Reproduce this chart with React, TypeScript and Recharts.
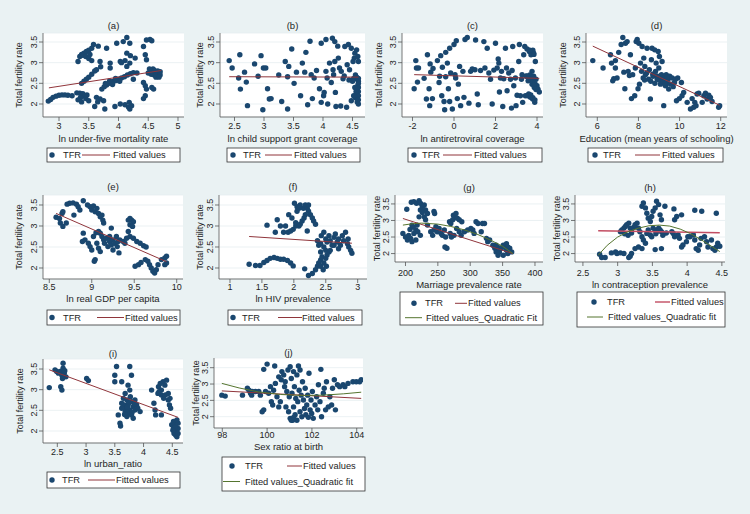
import { ScatterChart, Scatter, XAxis, YAxis, CartesianGrid } from 'recharts'

// ---- data: [x, TFR] ----
const tfrA = [
  [2.82, 2.07], [2.86, 2.11], [2.9, 2.16], [2.95, 2.19], [3.0, 2.21], [3.05, 2.22], [3.1, 2.22], [3.15, 2.21], [3.22, 2.2],
  [3.3, 2.27], [3.35, 2.26], [3.4, 2.25], [3.43, 2.2], [3.36, 2.15], [3.45, 2.13], [3.5, 2.08], [3.32, 2.1], [3.38, 2.05], [3.47, 2.22],
  [3.32, 3.03], [3.35, 3.15], [3.38, 3.2], [3.42, 3.23], [3.46, 3.27], [3.5, 3.3], [3.55, 3.35], [3.58, 3.44], [3.4, 3.18], [3.45, 3.15], [3.5, 3.1], [3.55, 3.05], [3.52, 3.2],
  [3.38, 2.5], [3.42, 2.55], [3.46, 2.6], [3.5, 2.65], [3.55, 2.72], [3.6, 2.8], [3.63, 2.83],
  [3.66, 3.4], [3.69, 3.03], [3.8, 3.35], [3.86, 2.99], [3.86, 2.87], [3.7, 2.9],
  [3.6, 1.94], [3.63, 2.16], [3.69, 2.12], [3.75, 2.08], [3.77, 1.88], [3.65, 2.05],
  [3.72, 2.36], [3.76, 2.42], [3.8, 2.46], [3.84, 2.5], [3.88, 2.53], [3.92, 2.55], [3.96, 2.57], [4.0, 2.6], [4.05, 2.63], [4.1, 2.66], [4.15, 2.7], [4.2, 2.73], [4.25, 2.76],
  [3.78, 2.5], [3.85, 2.56], [3.9, 2.47], [3.95, 2.62], [4.02, 2.55],
  [3.97, 3.47], [4.08, 3.51], [4.14, 3.61], [4.19, 3.47], [4.14, 3.23], [4.03, 3.03], [4.11, 3.05], [4.14, 2.91], [4.19, 2.99], [4.05, 3.0], [4.2, 3.17],
  [3.94, 1.94], [4.03, 2.0], [4.11, 1.98], [4.17, 1.92], [4.19, 1.88], [4.22, 1.96], [4.18, 2.04],
  [4.28, 3.11], [4.31, 2.75], [4.25, 2.6],
  [4.42, 3.39], [4.47, 3.55], [4.53, 3.56], [4.56, 3.53], [4.45, 3.19], [4.47, 3.07], [4.42, 2.52], [4.45, 2.44], [4.47, 2.36], [4.45, 2.2], [4.42, 2.13], [4.56, 2.4], [4.59, 2.36],
  [4.55, 2.8], [4.58, 2.85], [4.6, 2.82], [4.62, 2.78], [4.65, 2.75], [4.68, 2.72], [4.7, 2.7], [4.6, 2.7], [4.63, 2.65], [4.66, 2.8], [4.55, 2.72], [4.68, 2.65], [4.7, 2.78], [4.5, 2.75], [4.52, 2.85],
]
const fitA = [[2.83, 2.39], [4.72, 2.81]]

const tfrB = [
  [2.41, 3.05], [2.46, 2.87], [2.59, 3.19], [2.57, 2.63], [2.6, 2.36], [2.67, 2.77], [2.7, 2.53], [2.72, 1.96], [2.84, 2.97], [2.9, 2.67],
  [2.95, 3.17], [2.99, 2.87], [3.03, 2.87], [2.98, 1.86], [3.06, 2.37], [3.09, 2.12], [3.12, 2.13], [3.25, 2.7], [3.3, 2.06], [3.36, 3.03],
  [3.42, 2.91], [3.4, 2.66], [3.4, 1.88], [3.47, 3.33], [3.51, 2.5], [3.55, 2.77], [3.62, 2.2], [3.65, 2.99], [3.69, 2.77], [3.71, 3.25],
  [3.74, 1.98], [3.78, 3.52], [3.8, 2.71], [3.82, 2.13], [3.85, 2.63], [3.89, 2.81], [3.94, 2.37], [3.97, 3.47], [3.97, 2.04], [4.01, 2.2],
  [4.02, 2.28], [4.05, 3.56], [4.05, 2.79], [4.07, 2.63], [4.08, 2.0], [4.11, 2.99], [4.14, 2.52], [4.16, 3.59], [4.17, 2.83], [4.18, 2.71],
  [4.2, 3.51], [4.2, 3.03], [4.21, 2.28], [4.22, 1.94], [4.25, 3.4], [4.26, 3.11], [4.28, 2.87], [4.31, 2.79], [4.34, 2.61], [4.37, 3.39],
  [4.4, 1.92], [4.41, 2.95], [4.43, 3.44], [4.45, 2.83], [4.48, 2.08], [4.48, 3.35], [4.51, 3.03], [4.53, 3.11], [4.54, 3.23], [4.57, 3.31],
  [4.59, 3.15], [4.6, 3.03], [4.55, 2.7], [4.57, 2.65], [4.58, 2.6], [4.6, 2.55], [4.6, 2.5], [4.59, 2.45], [4.6, 2.4], [4.58, 2.35],
  [4.6, 2.3], [4.57, 2.25], [4.6, 2.2], [4.55, 2.15], [4.6, 2.1], [4.58, 2.05], [4.52, 2.62], [4.5, 2.55], [4.54, 2.4], [4.56, 2.3],
  [4.52, 2.2], [4.6, 2.62], [4.6, 2.0], [4.36, 2.68], [4.44, 2.58], [4.3, 1.95],
]
const fitB = [[2.41, 2.66], [4.6, 2.65]]

const tfrC = [
  [-1.92, 2.37], [-1.84, 3.05], [-1.81, 2.87], [-1.71, 2.87], [-1.76, 2.53], [-1.44, 2.62], [-1.33, 2.12], [-1.28, 3.19], [-1.2, 2.37], [-1.15, 2.97],
  [-1.17, 1.96], [-1.12, 2.77], [-1.04, 2.13], [-1.01, 2.86], [-0.8, 3.05], [-0.72, 2.52], [-0.69, 2.67], [-0.64, 3.17], [-0.59, 2.2], [-0.56, 2.89],
  [-0.48, 2.06], [-0.45, 1.86], [-0.4, 3.25], [-0.4, 2.66], [-0.32, 2.99], [-0.27, 2.37], [-0.21, 3.35], [-0.21, 2.06], [-0.16, 2.75], [-0.08, 1.88],
  [0.0, 3.44], [0.05, 2.71], [0.08, 2.63], [0.11, 3.53], [0.16, 2.13], [0.21, 2.48], [0.27, 2.91], [0.32, 1.96], [0.43, 2.79], [0.48, 2.16],
  [0.53, 3.56], [0.64, 3.61], [0.72, 2.02], [0.8, 2.79], [0.88, 2.85], [1.01, 2.83], [1.04, 3.55], [1.12, 2.24], [1.17, 1.98], [1.28, 2.81],
  [1.44, 3.51], [1.49, 2.87], [1.6, 3.35], [1.68, 2.75], [1.76, 2.6], [1.84, 2.0], [1.92, 2.82], [2.0, 3.47], [2.08, 2.87], [2.13, 3.09],
  [2.16, 2.99], [2.19, 2.29], [2.24, 2.63], [2.29, 2.79], [2.35, 1.94], [2.4, 2.61], [2.48, 3.35], [2.53, 2.87], [2.56, 2.32], [2.64, 2.75],
  [2.72, 2.6], [2.77, 1.9], [2.8, 2.81], [2.83, 3.39], [2.88, 2.44], [2.96, 2.63], [2.99, 1.96], [3.04, 2.21], [3.12, 3.03], [3.15, 3.44],
  [3.2, 2.2], [3.25, 2.6], [3.28, 2.71], [3.31, 2.04], [3.36, 3.19], [3.41, 3.39], [3.44, 2.2], [3.47, 2.67], [3.52, 3.33], [3.57, 2.56],
  [3.6, 2.24], [3.63, 3.27], [3.68, 2.16], [3.71, 3.19], [3.76, 2.48], [3.79, 2.12], [3.84, 3.23], [3.87, 2.4], [3.89, 2.04], [3.92, 3.03],
  [3.95, 2.6], [4.0, 2.44], [4.05, 2.36], [4.11, 2.29], [3.76, 2.79], [3.84, 2.67], [3.6, 2.62], [3.7, 2.58], [3.8, 2.55], [3.9, 2.5],
  [3.65, 2.7], [3.75, 2.65], [3.85, 2.45], [3.95, 2.35], [3.5, 2.68], [3.55, 2.2], [3.7, 2.22], [3.8, 2.15], [3.9, 2.1], [3.75, 3.28],
  [3.8, 3.3], [3.85, 3.2], [3.65, 3.3],
]
const fitC = [[-1.92, 2.71], [4.11, 2.62]]

const tfrD = [
  [5.78, 3.05], [6.28, 2.87], [6.64, 3.19], [6.69, 2.99], [6.75, 2.56], [6.8, 2.61], [6.88, 3.05], [6.88, 2.87], [6.96, 2.63], [7.04, 3.25],
  [7.16, 3.44], [7.24, 3.61], [7.29, 2.77], [7.34, 2.37], [7.37, 3.47], [7.45, 3.51], [7.5, 2.79], [7.56, 2.69], [7.61, 3.19], [7.66, 2.13],
  [7.72, 2.71], [7.82, 2.2], [7.85, 2.87], [7.89, 3.51], [7.94, 3.56], [7.98, 2.37], [8.02, 3.47], [8.05, 2.48], [8.1, 2.99], [8.15, 2.79],
  [8.18, 3.39], [8.23, 2.63], [8.26, 3.11], [8.31, 2.91], [8.34, 2.71], [8.42, 3.35], [8.5, 2.6], [8.53, 2.83], [8.58, 2.12], [8.63, 3.07],
  [8.66, 3.35], [8.71, 2.67], [8.79, 3.31], [8.83, 2.79], [8.86, 2.99], [8.91, 2.6], [8.96, 3.27], [8.99, 2.87], [9.02, 3.15], [9.07, 2.48],
  [9.12, 2.71], [9.15, 3.03], [9.18, 2.56], [9.23, 1.96], [9.26, 2.63], [9.31, 2.44], [9.35, 2.71], [9.39, 2.52], [9.44, 2.6], [9.47, 2.36],
  [9.52, 2.67], [9.56, 2.48], [9.64, 2.63], [9.69, 2.42], [9.75, 2.52], [9.8, 2.6], [9.85, 2.08], [9.91, 2.63], [9.99, 2.13], [10.09, 2.52],
  [10.12, 2.2], [10.2, 2.28], [10.37, 2.04], [10.53, 1.88], [10.61, 2.13], [10.69, 1.92], [10.74, 2.04], [10.8, 1.96], [10.85, 2.24], [10.93, 2.26],
  [11.1, 2.04], [11.18, 2.2], [11.26, 2.26], [11.34, 2.12], [11.42, 2.21], [11.5, 2.16], [11.58, 2.06], [11.9, 1.92], [11.95, 1.96],
  [8.6, 2.55], [8.7, 2.72], [8.8, 2.5], [8.9, 2.68], [9.0, 2.58], [9.1, 2.62], [9.2, 2.55], [9.3, 2.5], [9.4, 2.65], [8.4, 2.75], [8.3, 2.58],
]
const fitD = [[5.78, 3.4], [11.95, 1.97]]

const tfrE = [
  [8.58, 3.21], [8.62, 3.18], [8.65, 3.3], [8.66, 3.34], [8.63, 3.07], [8.66, 2.99], [8.7, 3.07], [8.71, 3.52], [8.74, 3.54], [8.78, 3.55],
  [8.82, 3.52], [8.84, 3.46], [8.86, 3.38], [8.79, 3.26], [8.9, 3.6], [8.9, 2.83], [8.89, 2.63], [8.92, 2.67], [8.95, 3.5], [8.98, 3.46],
  [9.0, 3.38], [9.02, 3.48], [9.04, 3.34], [9.06, 3.42], [9.08, 3.3], [9.1, 3.22], [9.12, 3.26], [9.13, 3.14], [9.14, 3.07], [8.96, 2.59],
  [8.98, 2.51], [9.0, 2.43], [9.03, 2.16], [9.04, 2.2], [9.02, 2.75], [9.05, 2.84], [9.08, 2.87], [9.1, 2.83], [9.06, 2.59], [9.08, 2.47],
  [9.1, 2.39], [9.12, 2.75], [9.14, 2.67], [9.15, 2.59], [9.17, 2.71], [9.19, 2.51], [9.21, 2.75], [9.21, 2.63], [9.23, 2.55], [9.25, 2.43],
  [9.23, 2.95], [9.25, 2.67], [9.27, 2.59], [9.29, 2.75], [9.3, 2.51], [9.31, 2.63], [9.32, 2.36], [9.33, 2.67], [9.37, 2.63], [9.39, 2.59],
  [9.41, 2.71], [9.43, 3.14], [9.45, 3.18], [9.47, 3.14], [9.49, 3.1], [9.45, 3.03], [9.48, 2.99], [9.43, 2.87], [9.45, 2.75], [9.49, 2.71],
  [9.53, 2.63], [9.57, 2.59], [9.61, 2.53], [9.64, 2.5], [9.51, 2.04], [9.55, 2.08], [9.58, 2.13], [9.63, 2.2], [9.66, 2.16], [9.68, 2.08],
  [9.7, 2.0], [9.72, 1.92], [9.74, 1.88], [9.76, 1.96], [9.78, 2.08], [9.82, 2.2], [9.86, 2.24], [9.88, 2.28], [9.86, 2.08], [9.88, 2.12],
]
const fitE = [[8.58, 3.3], [9.88, 2.15]]

const tfrF = [
  [1.3, 2.09], [1.4, 2.06], [1.47, 2.06], [1.53, 2.13], [1.58, 2.18], [1.63, 2.23], [1.69, 2.25], [1.74, 2.23], [1.79, 2.21], [1.84, 2.21],
  [1.9, 2.18], [1.95, 2.12], [1.99, 2.05],
  [1.58, 3.02], [1.74, 3.15], [1.79, 3.0], [1.87, 3.0], [1.84, 2.85], [1.71, 2.85], [1.91, 2.85], [1.95, 2.88], [1.92, 3.27], [1.97, 3.19],
  [1.99, 2.92], [2.01, 3.54], [2.05, 3.46], [2.03, 3.0], [2.08, 3.0], [2.1, 3.04], [2.13, 3.12], [2.16, 3.19], [2.18, 3.27], [2.15, 3.42],
  [2.18, 3.5], [2.21, 3.42], [2.23, 3.35], [2.26, 3.27], [2.29, 3.19], [2.31, 3.12], [2.34, 3.04], [2.1, 3.5], [2.08, 3.42], [2.05, 3.35],
  [2.03, 3.08], [2.23, 3.5], [2.21, 2.88],
  [2.17, 1.98], [2.23, 1.82], [2.29, 1.87], [2.34, 1.96], [2.37, 2.04], [2.39, 2.12], [2.42, 2.19], [2.44, 2.27], [2.42, 2.04], [2.47, 2.12],
  [2.5, 2.23], [2.52, 2.31], [2.55, 2.38], [2.5, 2.42], [2.42, 2.38], [2.46, 1.96], [2.51, 2.04],
  [2.37, 2.65], [2.39, 2.54], [2.43, 2.77], [2.47, 2.85], [2.5, 2.69], [2.52, 2.62], [2.55, 2.77], [2.57, 2.65], [2.6, 2.54], [2.63, 2.73],
  [2.65, 2.81], [2.68, 2.62], [2.7, 2.69], [2.73, 2.54], [2.76, 2.77], [2.78, 2.65], [2.81, 2.85], [2.84, 2.58], [2.86, 2.5], [2.89, 2.42],
  [2.91, 2.35], [2.85, 2.69], [2.63, 2.54], [2.57, 2.42], [2.7, 2.46], [2.47, 2.5], [2.42, 2.58],
]
const fitF = [[1.3, 2.75], [2.91, 2.59]]

const tfrG = [
  [196, 2.61], [200, 2.5], [203, 2.41], [205, 2.55], [208, 2.46], [210, 2.36], [202, 3.34], [213, 2.61], [216, 2.71], [207, 2.73],
  [210, 2.86], [212, 2.8], [218, 2.86], [209, 3.55], [213, 3.57], [217, 3.52], [223, 3.32], [221, 3.11], [221, 3.6], [223, 3.52],
  [226, 3.42], [229, 3.47], [231, 3.32], [234, 3.21], [226, 3.24], [229, 3.11], [231, 3.02], [234, 2.86], [216, 2.41], [219, 2.66],
  [223, 2.55], [244, 3.27], [245, 3.21], [239, 2.66], [242, 2.55], [244, 2.71], [247, 2.81], [249, 2.66], [252, 2.76], [255, 2.61],
  [257, 2.55], [260, 2.71], [262, 2.5], [264, 2.16], [261, 2.2], [268, 2.96], [270, 2.91], [273, 3.02], [274, 3.16], [276, 3.11],
  [278, 3.21], [280, 3.07], [283, 3.02], [287, 2.96], [269, 2.61], [271, 2.5], [275, 2.55], [279, 2.76], [283, 2.66], [286, 2.55],
  [291, 2.66], [296, 2.71], [301, 2.76], [304, 2.71], [306, 2.61], [309, 2.96], [312, 2.91], [317, 2.66], [319, 2.91], [322, 2.91],
  [325, 2.46], [327, 2.36], [330, 2.41], [335, 2.25], [338, 2.16], [340, 2.05], [343, 1.95], [345, 2.05], [348, 2.16], [351, 2.25],
  [353, 2.2], [356, 2.1], [358, 2.0], [361, 2.16], [364, 2.05], [351, 1.95], [344, 2.18], [340, 2.25], [356, 2.3], [358, 2.2],
]
const fitG = [[196, 3.06], [366, 2.0]]
const quadG = [[196, 2.86], [210, 2.9], [225, 2.92], [250, 2.89], [270, 2.82], [290, 2.72], [310, 2.59], [330, 2.42], [350, 2.22], [366, 2.0]]

const tfrH = [
  [2.74, 1.98], [2.77, 1.88], [2.82, 1.88], [2.91, 2.02], [2.97, 2.05], [2.99, 2.0], [3.04, 2.02], [3.09, 2.0], [3.16, 1.88], [3.18, 1.92],
  [3.2, 2.0], [3.04, 2.66], [3.06, 2.71], [3.09, 2.77], [3.11, 2.82], [3.13, 2.87], [3.16, 2.92], [3.18, 2.77], [3.2, 2.71], [3.23, 2.79],
  [3.25, 2.87], [3.28, 2.92], [3.3, 2.77], [3.32, 2.66], [3.35, 2.51], [3.37, 2.41], [3.4, 2.31], [3.3, 2.2], [3.25, 2.15], [3.35, 2.15],
  [3.35, 3.43], [3.37, 3.53], [3.4, 3.38], [3.42, 3.22], [3.44, 3.07], [3.47, 2.97], [3.49, 3.12], [3.51, 3.28], [3.54, 3.38], [3.56, 3.58],
  [3.59, 3.48], [3.61, 3.17], [3.63, 3.02], [3.51, 2.77], [3.54, 2.71], [3.56, 2.66], [3.59, 2.77], [3.61, 2.71], [3.63, 2.66], [3.66, 2.61],
  [3.68, 3.43], [3.44, 2.71], [3.42, 2.61], [3.47, 2.56], [3.49, 2.51], [3.54, 2.12], [3.63, 2.15], [3.82, 3.02], [3.85, 3.12], [3.81, 3.35],
  [3.92, 3.17], [3.78, 2.66], [3.8, 2.61], [3.82, 2.51], [3.87, 2.56], [3.89, 2.46], [3.92, 2.2], [3.94, 2.26], [3.99, 2.36], [4.04, 2.51],
  [4.09, 2.56], [4.11, 2.41], [4.13, 2.15], [4.16, 2.1], [4.18, 2.26], [4.2, 2.46], [4.25, 2.51], [4.28, 2.36], [4.3, 2.2], [4.35, 2.41],
  [4.37, 2.15], [4.4, 2.1], [4.42, 2.2], [4.44, 2.31], [4.47, 2.22], [4.11, 3.31], [4.21, 3.28], [4.42, 3.22], [4.01, 2.51],
  [3.1, 2.6], [3.2, 2.62], [3.15, 2.55], [3.55, 2.6], [3.65, 2.55], [3.7, 2.62],
]
const fitH = [[2.72, 2.69], [4.47, 2.63]]
const quadH = [[2.72, 1.95], [2.85, 2.25], [3.0, 2.5], [3.15, 2.66], [3.3, 2.77], [3.45, 2.84], [3.6, 2.86], [3.75, 2.83], [3.9, 2.74], [4.05, 2.6], [4.2, 2.42], [4.35, 2.22], [4.47, 2.06]]

const tfrI = [
  [2.36, 3.05], [2.46, 3.48], [2.49, 3.44], [2.52, 3.4], [2.55, 3.44], [2.58, 3.35], [2.56, 3.07], [2.58, 2.99], [2.6, 3.64], [2.6, 3.52],
  [2.62, 3.4], [2.63, 3.46], [2.65, 3.31], [2.59, 3.27], [3.01, 3.27], [3.04, 3.22], [3.5, 3.35], [3.5, 3.19], [3.53, 3.56], [3.56, 2.39],
  [3.59, 2.19], [3.6, 2.12], [3.62, 3.19], [3.76, 3.56], [3.79, 3.35], [3.73, 3.11], [3.76, 2.99], [3.68, 2.91], [3.65, 2.79], [3.71, 2.75],
  [3.62, 2.67], [3.66, 2.63], [3.7, 2.55], [3.73, 2.63], [3.76, 2.51], [3.79, 2.71], [3.82, 2.59], [3.85, 2.51], [3.88, 2.63], [3.73, 2.43],
  [3.79, 2.39], [3.71, 2.35], [3.82, 2.31], [3.68, 2.47], [3.62, 2.55], [3.77, 2.83], [3.9, 2.55], [3.94, 2.47], [3.85, 2.75], [4.14, 2.99],
  [4.18, 2.67], [4.2, 2.51], [4.21, 2.39], [4.26, 3.07], [4.29, 3.15], [4.31, 2.99], [4.34, 3.19], [4.37, 3.11], [4.4, 3.23], [4.31, 2.87],
  [4.35, 2.79], [4.38, 2.87], [4.43, 2.91], [4.43, 2.75], [4.45, 2.63], [4.47, 2.55], [4.46, 2.79], [4.31, 2.39], [4.25, 2.91], [4.27, 2.95],
  [4.49, 2.15], [4.52, 2.23], [4.55, 2.15], [4.58, 2.19], [4.52, 2.06], [4.55, 1.98], [4.56, 1.9], [4.58, 1.86], [4.6, 2.06], [4.6, 2.19],
  [4.58, 2.27], [4.53, 1.94], [4.6, 1.94], [4.55, 2.09], [4.51, 2.02],
  [3.67, 2.4], [3.74, 2.68], [3.8, 2.45], [3.72, 2.58], [3.84, 2.66],
]
const fitI = [[2.36, 3.48], [4.6, 2.33]]

const tfrJ = [
  [97.98, 2.66], [98.13, 2.63], [98.9, 2.66], [99.12, 2.87], [99.19, 2.81], [99.26, 2.72], [99.31, 2.66], [99.34, 2.77], [99.48, 2.77], [99.63, 2.77],
  [99.7, 2.66], [99.78, 2.15], [99.85, 2.21], [99.85, 3.45], [100.0, 3.61], [99.93, 2.77], [100.07, 2.72], [100.15, 2.92], [100.19, 2.46], [100.25, 2.36],
  [100.29, 2.81], [100.34, 3.55], [100.37, 3.02], [100.44, 2.61], [100.52, 2.3], [100.59, 2.46], [100.52, 3.22], [100.63, 3.13], [100.66, 3.38], [100.74, 3.28],
  [100.78, 2.92], [100.81, 3.07], [100.84, 2.3], [100.88, 2.77], [100.93, 3.43], [100.96, 2.15], [100.99, 2.61], [101.03, 3.53], [101.03, 1.95], [101.08, 3.17],
  [101.11, 2.72], [101.14, 1.89], [101.18, 2.3], [101.18, 3.38], [101.22, 2.92], [101.25, 2.06], [101.28, 2.56], [101.33, 3.28], [101.37, 2.46], [101.4, 3.55],
  [101.43, 2.81], [101.47, 2.15], [101.47, 3.43], [101.52, 2.66], [101.55, 2.0], [101.58, 3.07], [101.62, 2.51], [101.67, 2.25], [101.7, 2.87], [101.73, 2.06],
  [101.77, 2.36], [101.81, 2.66], [101.84, 1.98], [101.87, 3.33], [101.92, 2.21], [101.96, 2.51], [101.99, 2.1], [102.02, 2.77], [102.06, 1.95], [102.14, 2.36],
  [102.21, 2.61], [102.26, 2.21], [102.29, 2.98], [102.36, 2.46], [102.4, 3.45], [102.43, 2.0], [102.51, 2.72], [102.55, 2.87], [102.61, 2.21], [102.65, 3.07],
  [102.73, 2.3], [102.8, 2.61], [102.88, 2.36], [102.92, 2.87], [103.0, 3.13], [103.05, 2.21], [103.14, 2.98], [103.24, 2.92], [103.39, 2.98], [103.47, 2.92],
  [103.61, 3.02], [103.83, 3.07], [103.98, 3.07], [104.13, 3.07], [104.2, 3.13], [101.08, 1.89], [101.18, 1.98], [101.33, 1.89],
]
const fitJ = [[97.98, 2.79], [104.2, 2.56]]
const quadJ = [[97.98, 3.02], [98.75, 2.88], [99.6, 2.76], [100.6, 2.68], [101.6, 2.65], [102.5, 2.66], [103.4, 2.7], [104.2, 2.75]]

// tick labels
const yTicks = [2, 2.5, 3, 3.5]
const ticksA = [3, 3.5, 4, 4.5, 5]
const ticksB = [2.5, 3, 3.5, 4, 4.5]
const ticksC = [-2, 0, 2, 4]
const ticksD = [6, 8, 10, 12]
const ticksE = [8.5, 9, 9.5, 10]
const ticksF = [1, 1.5, 2, 2.5, 3]
const ticksG = [200, 250, 300, 350, 400]
const ticksH = [2.5, 3, 3.5, 4, 4.5]
const ticksI = [2.5, 3, 3.5, 4, 4.5]
const ticksJ = [98, 100, 102, 104]

const yTitle = 'Total fertility rate'
const seriesLabel = 'TFR'
const fitLabel = 'Fitted values'

// ---- styles ----
const BG = '#eaf2f3'
const NAVY = '#1a476f'
const MAROON = '#90353b'
const PINK = '#c24d62'
const GREEN = '#55752f'
const INK = '#1e1e1e'
const AXIS = '#555'
const GRID = '#e6eef0'
const FONT = '"Liberation Sans", Arial, Helvetica, sans-serif'

const YW = 30
const XH = 20
const PAD = 4

// layout of each sub-graph (page pixels): plot box [l, t, r, b]
const panels = [
  { title: '(a)', xLabel: 'ln under-five mortality rate', pts: tfrA, fit: fitA, xTicks: ticksA,
    box: [43, 33, 184, 117], xDomain: [2.731, 5.101], yDomain: [1.685, 3.718], titleY: 25, xTitleY: 138, yTitleX: 19, gap: 2,
    leg: { x0: 47, x1: 180, y0: 148, y1: 162, r1: 155, dot: 52, tfr: 63, l1: [82, 110], t1: 113 } },
  { title: '(b)', xLabel: 'ln child support grant coverage', pts: tfrB, fit: fitB, xTicks: ticksB,
    box: [220, 33, 365, 117], xDomain: [2.254, 4.712], yDomain: [1.685, 3.718], titleY: 25, xTitleY: 138, yTitleX: 200, gap: 2,
    leg: { x0: 227, x1: 360, y0: 148, y1: 162, r1: 155, dot: 233, tfr: 243, l1: [265, 292], t1: 294 } },
  { title: '(c)', xLabel: 'ln antiretroviral coverage', pts: tfrC, fit: fitC, xTicks: ticksC,
    box: [402, 33, 543, 117], xDomain: [-2.506, 4.289], yDomain: [1.685, 3.718], titleY: 25, xTitleY: 138, yTitleX: 379, gap: 2,
    leg: { x0: 408, x1: 542, y0: 148, y1: 162, r1: 155, dot: 414, tfr: 422, l1: [443, 472], t1: 474 } },
  { title: '(d)', xLabel: 'Education (mean years of schooling)', pts: tfrD, fit: fitD, xTicks: ticksD,
    box: [586, 33, 727, 117], xDomain: [5.45, 12.306], yDomain: [1.685, 3.718], titleY: 25, xTitleY: 138, yTitleX: 563, gap: 2,
    leg: { x0: 588, x1: 723, y0: 148, y1: 162, r1: 155, dot: 595, tfr: 603, l1: [635, 660], t1: 662 } },
  { title: '(e)', xLabel: 'ln real GDP per capita', pts: tfrE, fit: fitE, xTicks: ticksE,
    box: [43, 195, 183, 279], xDomain: [8.426, 10.074], yDomain: [1.738, 3.738], titleY: 186, xTitleY: 298, yTitleX: 19, gap: 1,
    leg: { x0: 47, x1: 180, y0: 310, y1: 325, r1: 317.5, dot: 52, tfr: 63, l1: [97, 124], t1: 125 } },
  { title: '(f)', xLabel: 'ln HIV prevalence', pts: tfrF, fit: fitF, xTicks: ticksF,
    box: [219, 195, 367, 279], xDomain: [0.828, 3.146], yDomain: [1.738, 3.738], titleY: 186, xTitleY: 298, yTitleX: 200, gap: 1,
    leg: { x0: 228, x1: 362, y0: 310, y1: 325, r1: 317.5, dot: 233, tfr: 242, l1: [278, 302], t1: 302 } },
  { title: '(g)', xLabel: 'Marriage prevalence rate', pts: tfrG, fit: fitG, quad: quadG, xTicks: ticksG,
    box: [395, 195, 543, 262], xDomain: [183.8, 412.4], yDomain: [1.745, 3.77], titleY: 187, xTitleY: 284, yTitleX: 377, gap: 3.5,
    leg: { x0: 400, x1: 543, y0: 292, y1: 325, r1: 303.3, r2: 317.7, dot: 414, tfr: 425, l1: [455, 467], t1: 468, l2: [405, 422], t2: 426, q: 'Fitted values_Quadratic Fit' } },
  { title: '(h)', xLabel: 'ln contraception prevalence', pts: tfrH, fit: fitH, quad: quadH, xTicks: ticksH, fitColor: PINK,
    box: [575, 195, 725, 262], xDomain: [2.386, 4.545], yDomain: [1.745, 3.77], titleY: 187, xTitleY: 284, yTitleX: 557, gap: 3.5,
    leg: { x0: 577, x1: 725, y0: 292, y1: 327, r1: 302, r2: 317, dot: 594, tfr: 607, l1: [655, 670], t1: 671, l2: [587, 603], t2: 608, q: 'Fitted values_Quadratic fit' } },
  { title: '(i)', xLabel: 'ln urban_ratio', pts: tfrI, fit: fitI, xTicks: ticksI,
    box: [43, 359, 183, 443], xDomain: [2.251, 4.686], yDomain: [1.71, 3.742], titleY: 353, xTitleY: 463, yTitleX: 20, gap: 1.5,
    leg: { x0: 47, x1: 180, y0: 472, y1: 488, r1: 480, dot: 52, tfr: 62, l1: [88, 115], t1: 116 } },
  { title: '(j)', xLabel: 'Sex ratio at birth', pts: tfrJ, fit: fitJ, quad: quadJ, xTicks: ticksJ,
    box: [214, 358, 363, 428], xDomain: [97.63, 104.28], yDomain: [1.654, 3.797], titleY: 352, xTitleY: 446, yTitleX: 196, gap: 0,
    leg: { x0: 222, x1: 365, y0: 457, y1: 491, r1: 466, r2: 481.5, dot: 232, tfr: 245, l1: [287, 302], t1: 303, l2: [223, 240], t2: 245, q: 'Fitted values_Quadratic fit' } },
]

const toXY = (arr: number[][]) => arr.map(([x, y]) => ({ x, y }))

const Dot = (props: any) => <circle cx={props.cx} cy={props.cy} r={2.7} fill={NAVY} />
const NoDot = () => <g />

const YTick = (props: any) => {
  const { x, y, payload } = props
  return (
    <text x={x} y={y} transform={`rotate(-90 ${x} ${y})`} textAnchor="middle" fontSize={9} fill={INK} fontFamily={FONT}>
      {payload.value}
    </text>
  )
}

function Panel({ p }: { p: any }) {
  const [l, t, r, b] = p.box
  const width = r - l + YW + PAD
  const height = b - t + PAD + XH
  const fitColor = p.fitColor || MAROON
  return (
    <div style={{ position: 'absolute', left: l - YW, top: t - PAD }}>
      <ScatterChart width={width} height={height} margin={{ top: PAD, right: PAD, bottom: 0, left: 0 }}>
        <CartesianGrid vertical={false} fill="#ffffff" fillOpacity={1} stroke={GRID} strokeWidth={0.8} />
        <XAxis
          type="number"
          dataKey="x"
          domain={p.xDomain}
          ticks={p.xTicks}
          interval={0}
          allowDataOverflow
          height={XH}
          tickSize={4}
          tickMargin={p.gap}
          axisLine={{ stroke: AXIS, strokeWidth: 0.8 }}
          tickLine={{ stroke: AXIS, strokeWidth: 0.8 }}
          tick={{ fontSize: 9, fill: INK, fontFamily: FONT }}
        />
        <YAxis
          type="number"
          dataKey="y"
          domain={p.yDomain}
          ticks={yTicks}
          interval={0}
          allowDataOverflow
          width={YW}
          tickSize={4}
          axisLine={{ stroke: AXIS, strokeWidth: 0.8 }}
          tickLine={{ stroke: AXIS, strokeWidth: 0.8 }}
          tick={<YTick />}
        />
        <Scatter data={toXY(p.pts)} shape={Dot} isAnimationActive={false} />
        <Scatter data={toXY(p.fit)} shape={NoDot} line={{ stroke: fitColor, strokeWidth: p.fitColor ? 1.4 : 1 }} isAnimationActive={false} />
        {p.quad && (
          <Scatter data={toXY(p.quad)} shape={NoDot} line={{ stroke: GREEN, strokeWidth: 1 }} lineType="joint" isAnimationActive={false} />
        )}
      </ScatterChart>
    </div>
  )
}

function Labels({ p }: { p: any }) {
  const [l, t, r, b] = p.box
  const cx = (l + r) / 2
  const cy = (t + b) / 2
  const g = p.leg
  const fitColor = p.fitColor || MAROON
  const txt = { fontFamily: FONT, fill: INK, dominantBaseline: 'central' as const }
  return (
    <g>
      <text x={cx} y={p.titleY} textAnchor="middle" fontSize={9.5} {...txt}>{p.title}</text>
      <text x={p.yTitleX} y={cy} textAnchor="middle" fontSize={9} transform={`rotate(-90 ${p.yTitleX} ${cy})`} {...txt}>
        {yTitle}
      </text>
      <text x={cx} y={p.xTitleY} textAnchor="middle" fontSize={9.5} {...txt}>{p.xLabel}</text>
      <rect x={g.x0} y={g.y0} width={g.x1 - g.x0} height={g.y1 - g.y0} fill="#fff" stroke="#333" strokeWidth={0.8} />
      <circle cx={g.dot} cy={g.r1} r={2.7} fill={NAVY} />
      <text x={g.tfr} y={g.r1} fontSize={9.3} {...txt}>{seriesLabel}</text>
      <line x1={g.l1[0]} x2={g.l1[1]} y1={g.r1} y2={g.r1} stroke={fitColor} strokeWidth={p.fitColor ? 1.4 : 1} />
      <text x={g.t1} y={g.r1} fontSize={9.3} {...txt}>{fitLabel}</text>
      {g.l2 && <line x1={g.l2[0]} x2={g.l2[1]} y1={g.r2} y2={g.r2} stroke={GREEN} strokeWidth={1} />}
      {g.l2 && <text x={g.t2} y={g.r2} fontSize={9.3} {...txt}>{g.q}</text>}
    </g>
  )
}

export default function App() {
  return (
    <div style={{ position: 'absolute', left: 0, top: 0, width: 750, height: 514, background: BG, overflow: 'hidden' }}>
      {panels.map((p) => (
        <Panel key={p.title} p={p} />
      ))}
      <svg width={750} height={514} style={{ position: 'absolute', left: 0, top: 0, pointerEvents: 'none' }}>
        {panels.map((p) => (
          <Labels key={p.title} p={p} />
        ))}
      </svg>
    </div>
  )
}
